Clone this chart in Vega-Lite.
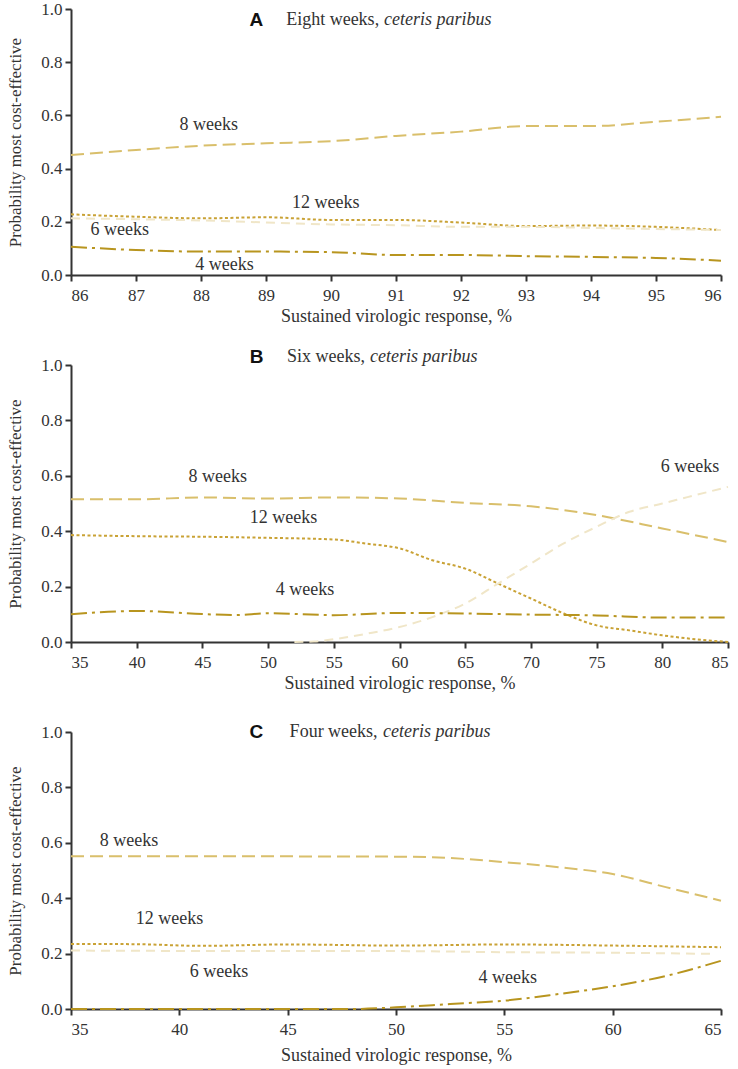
{
  "$schema": "https://vega.github.io/schema/vega-lite/v6.json",
  "background": "white",
  "padding": {"left": 6, "top": 0, "right": 5, "bottom": 2},
  "spacing": 90,
  "bounds": "flush",
  "config": {
    "view": {"stroke": null},
    "axis": {
      "grid": false,
      "domainColor": "#333333",
      "domainWidth": 2,
      "tickColor": "#333333",
      "tickWidth": 2,
      "tickSize": 6,
      "labelFont": "Times New Roman, Liberation Serif, DejaVu Serif, serif",
      "labelFontSize": 17,
      "labelColor": "#333333",
      "titleFont": "Times New Roman, Liberation Serif, DejaVu Serif, serif",
      "titleFontWeight": "normal",
      "titleColor": "#333333"
    },
    "axisX": {"labelPadding": 6, "titleFontSize": 18},
    "axisY": {"labelPadding": 3, "titleFontSize": 17, "titlePadding": 16},
    "text": {"font": "Times New Roman, Liberation Serif, DejaVu Serif, serif", "fontSize": 18, "color": "#333333"}
  },
  "datasets": {
    "lineA": [
      {"x": 86, "y": 0.451, "s": "8 weeks"}, {"x": 87, "y": 0.47, "s": "8 weeks"}, {"x": 88, "y": 0.486, "s": "8 weeks"}, {"x": 89, "y": 0.495, "s": "8 weeks"}, {"x": 90, "y": 0.503, "s": "8 weeks"}, {"x": 91, "y": 0.523, "s": "8 weeks"}, {"x": 92, "y": 0.539, "s": "8 weeks"}, {"x": 93, "y": 0.56, "s": "8 weeks"}, {"x": 94, "y": 0.56, "s": "8 weeks"}, {"x": 95, "y": 0.576, "s": "8 weeks"}, {"x": 96, "y": 0.595, "s": "8 weeks"},
      {"x": 86, "y": 0.228, "s": "12 weeks"}, {"x": 87, "y": 0.219, "s": "12 weeks"}, {"x": 88, "y": 0.213, "s": "12 weeks"}, {"x": 89, "y": 0.217, "s": "12 weeks"}, {"x": 90, "y": 0.207, "s": "12 weeks"}, {"x": 91, "y": 0.207, "s": "12 weeks"}, {"x": 92, "y": 0.197, "s": "12 weeks"}, {"x": 93, "y": 0.184, "s": "12 weeks"}, {"x": 94, "y": 0.186, "s": "12 weeks"}, {"x": 95, "y": 0.181, "s": "12 weeks"}, {"x": 96, "y": 0.169, "s": "12 weeks"},
      {"x": 86, "y": 0.213, "s": "6 weeks"}, {"x": 88, "y": 0.205, "s": "6 weeks"}, {"x": 90, "y": 0.19, "s": "6 weeks"}, {"x": 91, "y": 0.187, "s": "6 weeks"}, {"x": 92, "y": 0.181, "s": "6 weeks"}, {"x": 93, "y": 0.181, "s": "6 weeks"}, {"x": 94, "y": 0.177, "s": "6 weeks"}, {"x": 95, "y": 0.173, "s": "6 weeks"}, {"x": 96, "y": 0.169, "s": "6 weeks"},
      {"x": 86, "y": 0.106, "s": "4 weeks"}, {"x": 87, "y": 0.094, "s": "4 weeks"}, {"x": 88, "y": 0.088, "s": "4 weeks"}, {"x": 89, "y": 0.088, "s": "4 weeks"}, {"x": 90, "y": 0.086, "s": "4 weeks"}, {"x": 91, "y": 0.075, "s": "4 weeks"}, {"x": 92, "y": 0.075, "s": "4 weeks"}, {"x": 93, "y": 0.071, "s": "4 weeks"}, {"x": 94, "y": 0.068, "s": "4 weeks"}, {"x": 95, "y": 0.064, "s": "4 weeks"}, {"x": 96, "y": 0.054, "s": "4 weeks"}
    ],
    "lineB": [
      {"x": 35, "y": 0.515, "s": "8 weeks"}, {"x": 40, "y": 0.515, "s": "8 weeks"}, {"x": 45, "y": 0.522, "s": "8 weeks"}, {"x": 50, "y": 0.518, "s": "8 weeks"}, {"x": 55, "y": 0.522, "s": "8 weeks"}, {"x": 60, "y": 0.518, "s": "8 weeks"}, {"x": 65, "y": 0.502, "s": "8 weeks"}, {"x": 70, "y": 0.49, "s": "8 weeks"}, {"x": 75, "y": 0.458, "s": "8 weeks"}, {"x": 80, "y": 0.41, "s": "8 weeks"}, {"x": 85, "y": 0.361, "s": "8 weeks"},
      {"x": 35, "y": 0.386, "s": "12 weeks"}, {"x": 40, "y": 0.382, "s": "12 weeks"}, {"x": 45, "y": 0.38, "s": "12 weeks"}, {"x": 50, "y": 0.376, "s": "12 weeks"}, {"x": 55, "y": 0.37, "s": "12 weeks"}, {"x": 57.5, "y": 0.355, "s": "12 weeks"}, {"x": 60, "y": 0.338, "s": "12 weeks"}, {"x": 62.5, "y": 0.295, "s": "12 weeks"}, {"x": 65, "y": 0.265, "s": "12 weeks"}, {"x": 67.5, "y": 0.211, "s": "12 weeks"}, {"x": 70, "y": 0.157, "s": "12 weeks"}, {"x": 72.5, "y": 0.103, "s": "12 weeks"}, {"x": 75, "y": 0.06, "s": "12 weeks"}, {"x": 77.5, "y": 0.042, "s": "12 weeks"}, {"x": 80, "y": 0.024, "s": "12 weeks"}, {"x": 82.5, "y": 0.01, "s": "12 weeks"}, {"x": 85, "y": 0.0, "s": "12 weeks"},
      {"x": 52, "y": 0.0, "s": "6 weeks"}, {"x": 53.5, "y": 0.002, "s": "6 weeks"}, {"x": 55, "y": 0.01, "s": "6 weeks"}, {"x": 57.5, "y": 0.03, "s": "6 weeks"}, {"x": 60, "y": 0.054, "s": "6 weeks"}, {"x": 62.5, "y": 0.09, "s": "6 weeks"}, {"x": 65, "y": 0.139, "s": "6 weeks"}, {"x": 67.5, "y": 0.211, "s": "6 weeks"}, {"x": 70, "y": 0.283, "s": "6 weeks"}, {"x": 72.5, "y": 0.356, "s": "6 weeks"}, {"x": 75, "y": 0.416, "s": "6 weeks"}, {"x": 77.5, "y": 0.47, "s": "6 weeks"}, {"x": 80, "y": 0.5, "s": "6 weeks"}, {"x": 82.5, "y": 0.53, "s": "6 weeks"}, {"x": 85, "y": 0.56, "s": "6 weeks"},
      {"x": 35, "y": 0.1, "s": "4 weeks"}, {"x": 40, "y": 0.112, "s": "4 weeks"}, {"x": 45, "y": 0.101, "s": "4 weeks"}, {"x": 47.5, "y": 0.097, "s": "4 weeks"}, {"x": 50, "y": 0.104, "s": "4 weeks"}, {"x": 55, "y": 0.097, "s": "4 weeks"}, {"x": 60, "y": 0.105, "s": "4 weeks"}, {"x": 65, "y": 0.103, "s": "4 weeks"}, {"x": 70, "y": 0.099, "s": "4 weeks"}, {"x": 75, "y": 0.096, "s": "4 weeks"}, {"x": 80, "y": 0.088, "s": "4 weeks"}, {"x": 85, "y": 0.088, "s": "4 weeks"}
    ],
    "lineC": [
      {"x": 35, "y": 0.551, "s": "8 weeks"}, {"x": 40, "y": 0.551, "s": "8 weeks"}, {"x": 45, "y": 0.551, "s": "8 weeks"}, {"x": 50, "y": 0.55, "s": "8 weeks"}, {"x": 52.5, "y": 0.545, "s": "8 weeks"}, {"x": 55, "y": 0.53, "s": "8 weeks"}, {"x": 57.5, "y": 0.512, "s": "8 weeks"}, {"x": 60, "y": 0.487, "s": "8 weeks"}, {"x": 62.5, "y": 0.439, "s": "8 weeks"}, {"x": 65, "y": 0.391, "s": "8 weeks"},
      {"x": 35, "y": 0.235, "s": "12 weeks"}, {"x": 38, "y": 0.234, "s": "12 weeks"}, {"x": 41, "y": 0.228, "s": "12 weeks"}, {"x": 45, "y": 0.233, "s": "12 weeks"}, {"x": 50, "y": 0.229, "s": "12 weeks"}, {"x": 55, "y": 0.233, "s": "12 weeks"}, {"x": 60, "y": 0.229, "s": "12 weeks"}, {"x": 65, "y": 0.223, "s": "12 weeks"},
      {"x": 35, "y": 0.211, "s": "6 weeks"}, {"x": 45, "y": 0.209, "s": "6 weeks"}, {"x": 50, "y": 0.209, "s": "6 weeks"}, {"x": 55, "y": 0.205, "s": "6 weeks"}, {"x": 60, "y": 0.203, "s": "6 weeks"}, {"x": 64.7, "y": 0.199, "s": "6 weeks"},
      {"x": 35, "y": 0.0, "s": "4 weeks"}, {"x": 40, "y": 0.0, "s": "4 weeks"}, {"x": 45, "y": 0.0, "s": "4 weeks"}, {"x": 48, "y": 0.0, "s": "4 weeks"}, {"x": 50, "y": 0.006, "s": "4 weeks"}, {"x": 52.5, "y": 0.018, "s": "4 weeks"}, {"x": 55, "y": 0.03, "s": "4 weeks"}, {"x": 57.5, "y": 0.054, "s": "4 weeks"}, {"x": 60, "y": 0.082, "s": "4 weeks"}, {"x": 62.5, "y": 0.12, "s": "4 weeks"}, {"x": 65, "y": 0.174, "s": "4 weeks"}
    ],
    "labA": [
      {"x": 88.12, "y": 0.564, "t": "8 weeks"}, {"x": 89.92, "y": 0.272, "t": "12 weeks"}, {"x": 86.75, "y": 0.169, "t": "6 weeks"}, {"x": 88.36, "y": 0.038, "t": "4 weeks"}
    ],
    "labB": [
      {"x": 46.17, "y": 0.596, "t": "8 weeks"}, {"x": 51.17, "y": 0.446, "t": "12 weeks"}, {"x": 52.8, "y": 0.189, "t": "4 weeks"}, {"x": 82.1, "y": 0.632, "t": "6 weeks"}
    ],
    "labC": [
      {"x": 37.68, "y": 0.608, "t": "8 weeks"}, {"x": 39.55, "y": 0.325, "t": "12 weeks"}, {"x": 41.83, "y": 0.132, "t": "6 weeks"}, {"x": 55.16, "y": 0.111, "t": "4 weeks"}
    ],
    "ttlA": [{"x": 88.85, "x2": 89.31, "x3": 90.815, "y": 0.959, "k": "A", "a": "Eight weeks,", "b": "ceteris paribus"}],
    "ttlB": [{"x": 49.12, "x2": 51.44, "x3": 57.75, "y": 1.03, "k": "B", "a": "Six weeks,", "b": "ceteris paribus"}],
    "ttlC": [{"x": 43.55, "x2": 45.09, "x3": 49.4, "y": 1.0, "k": "C", "a": "Four weeks,", "b": "ceteris paribus"}]
  },
  "vconcat": [
    {
      "width": 650, "height": 266,
      "layer": [
        {
          "data": {"name": "lineA"},
          "mark": {"type": "line", "strokeWidth": 2, "interpolate": "monotone"},
          "encoding": {
            "x": {"field": "x", "type": "quantitative", "scale": {"domain": [86, 96], "nice": false, "zero": false}, "axis": {"values": [86, 87, 88, 89, 90, 91, 92, 93, 94, 95, 96], "format": "d", "title": "Sustained virologic response, %", "titlePadding": 4}},
            "y": {"field": "y", "type": "quantitative", "scale": {"domain": [0, 1], "nice": false}, "axis": {"values": [0, 0.2, 0.4, 0.6, 0.8, 1], "format": ".1f", "title": "Probability most cost-effective"}},
            "color": {"field": "s", "type": "nominal", "scale": {"domain": ["8 weeks", "12 weeks", "6 weeks", "4 weeks"], "range": ["#d9bf6b", "#c9a235", "#f0e6c8", "#b8951f"]}, "legend": null},
            "strokeDash": {"field": "s", "type": "nominal", "scale": {"domain": ["8 weeks", "12 weeks", "6 weeks", "4 weeks"], "range": [[13, 6], [3, 2.5], [9, 6], [16, 5, 3, 5]]}, "legend": null}
          }
        },
        {"data": {"name": "labA"}, "mark": {"type": "text", "align": "center", "baseline": "middle"}, "encoding": {"x": {"field": "x", "type": "quantitative"}, "y": {"field": "y", "type": "quantitative"}, "text": {"field": "t"}}},
        {"data": {"name": "ttlA"}, "mark": {"type": "text", "align": "center", "baseline": "middle", "font": "Arial, Liberation Sans, sans-serif", "fontWeight": "bold", "fontSize": 19, "color": "#111111"}, "encoding": {"x": {"field": "x", "type": "quantitative"}, "y": {"field": "y", "type": "quantitative"}, "text": {"field": "k"}}},
        {"data": {"name": "ttlA"}, "mark": {"type": "text", "align": "left", "baseline": "middle"}, "encoding": {"x": {"field": "x2", "type": "quantitative"}, "y": {"field": "y", "type": "quantitative"}, "text": {"field": "a"}}},
        {"data": {"name": "ttlA"}, "mark": {"type": "text", "align": "left", "baseline": "middle", "fontStyle": "italic"}, "encoding": {"x": {"field": "x3", "type": "quantitative"}, "y": {"field": "y", "type": "quantitative"}, "text": {"field": "b"}}}
      ]
    },
    {
      "width": 657, "height": 277,
      "layer": [
        {
          "data": {"name": "lineB"},
          "mark": {"type": "line", "strokeWidth": 2, "interpolate": "monotone"},
          "encoding": {
            "x": {"field": "x", "type": "quantitative", "scale": {"domain": [35, 85], "nice": false, "zero": false}, "axis": {"values": [35, 40, 45, 50, 55, 60, 65, 70, 75, 80, 85], "format": "d", "title": "Sustained virologic response, %", "titlePadding": 4}},
            "y": {"field": "y", "type": "quantitative", "scale": {"domain": [0, 1], "nice": false}, "axis": {"values": [0, 0.2, 0.4, 0.6, 0.8, 1], "format": ".1f", "title": "Probability most cost-effective"}},
            "color": {"field": "s", "type": "nominal", "scale": {"domain": ["8 weeks", "12 weeks", "6 weeks", "4 weeks"], "range": ["#d9bf6b", "#c9a235", "#f0e6c8", "#b8951f"]}, "legend": null},
            "strokeDash": {"field": "s", "type": "nominal", "scale": {"domain": ["8 weeks", "12 weeks", "6 weeks", "4 weeks"], "range": [[13, 6], [3, 2.5], [9, 6], [16, 5, 3, 5]]}, "legend": null}
          }
        },
        {"data": {"name": "labB"}, "mark": {"type": "text", "align": "center", "baseline": "middle"}, "encoding": {"x": {"field": "x", "type": "quantitative"}, "y": {"field": "y", "type": "quantitative"}, "text": {"field": "t"}}},
        {"data": {"name": "ttlB"}, "mark": {"type": "text", "align": "center", "baseline": "middle", "font": "Arial, Liberation Sans, sans-serif", "fontWeight": "bold", "fontSize": 19, "color": "#111111"}, "encoding": {"x": {"field": "x", "type": "quantitative"}, "y": {"field": "y", "type": "quantitative"}, "text": {"field": "k"}}},
        {"data": {"name": "ttlB"}, "mark": {"type": "text", "align": "left", "baseline": "middle"}, "encoding": {"x": {"field": "x2", "type": "quantitative"}, "y": {"field": "y", "type": "quantitative"}, "text": {"field": "a"}}},
        {"data": {"name": "ttlB"}, "mark": {"type": "text", "align": "left", "baseline": "middle", "fontStyle": "italic"}, "encoding": {"x": {"field": "x3", "type": "quantitative"}, "y": {"field": "y", "type": "quantitative"}, "text": {"field": "b"}}}
      ]
    },
    {
      "width": 650, "height": 277,
      "layer": [
        {
          "data": {"name": "lineC"},
          "mark": {"type": "line", "strokeWidth": 2, "interpolate": "monotone"},
          "encoding": {
            "x": {"field": "x", "type": "quantitative", "scale": {"domain": [35, 65], "nice": false, "zero": false}, "axis": {"values": [35, 40, 45, 50, 55, 60, 65], "format": "d", "title": "Sustained virologic response, %", "titlePadding": 9}},
            "y": {"field": "y", "type": "quantitative", "scale": {"domain": [0, 1], "nice": false}, "axis": {"values": [0, 0.2, 0.4, 0.6, 0.8, 1], "format": ".1f", "title": "Probability most cost-effective"}},
            "color": {"field": "s", "type": "nominal", "scale": {"domain": ["8 weeks", "12 weeks", "6 weeks", "4 weeks"], "range": ["#d9bf6b", "#c9a235", "#f0e6c8", "#b8951f"]}, "legend": null},
            "strokeDash": {"field": "s", "type": "nominal", "scale": {"domain": ["8 weeks", "12 weeks", "6 weeks", "4 weeks"], "range": [[13, 6], [3, 2.5], [9, 6], [16, 5, 3, 5]]}, "legend": null}
          }
        },
        {"data": {"name": "labC"}, "mark": {"type": "text", "align": "center", "baseline": "middle"}, "encoding": {"x": {"field": "x", "type": "quantitative"}, "y": {"field": "y", "type": "quantitative"}, "text": {"field": "t"}}},
        {"data": {"name": "ttlC"}, "mark": {"type": "text", "align": "center", "baseline": "middle", "font": "Arial, Liberation Sans, sans-serif", "fontWeight": "bold", "fontSize": 19, "color": "#111111"}, "encoding": {"x": {"field": "x", "type": "quantitative"}, "y": {"field": "y", "type": "quantitative"}, "text": {"field": "k"}}},
        {"data": {"name": "ttlC"}, "mark": {"type": "text", "align": "left", "baseline": "middle"}, "encoding": {"x": {"field": "x2", "type": "quantitative"}, "y": {"field": "y", "type": "quantitative"}, "text": {"field": "a"}}},
        {"data": {"name": "ttlC"}, "mark": {"type": "text", "align": "left", "baseline": "middle", "fontStyle": "italic"}, "encoding": {"x": {"field": "x3", "type": "quantitative"}, "y": {"field": "y", "type": "quantitative"}, "text": {"field": "b"}}}
      ]
    }
  ]
}
